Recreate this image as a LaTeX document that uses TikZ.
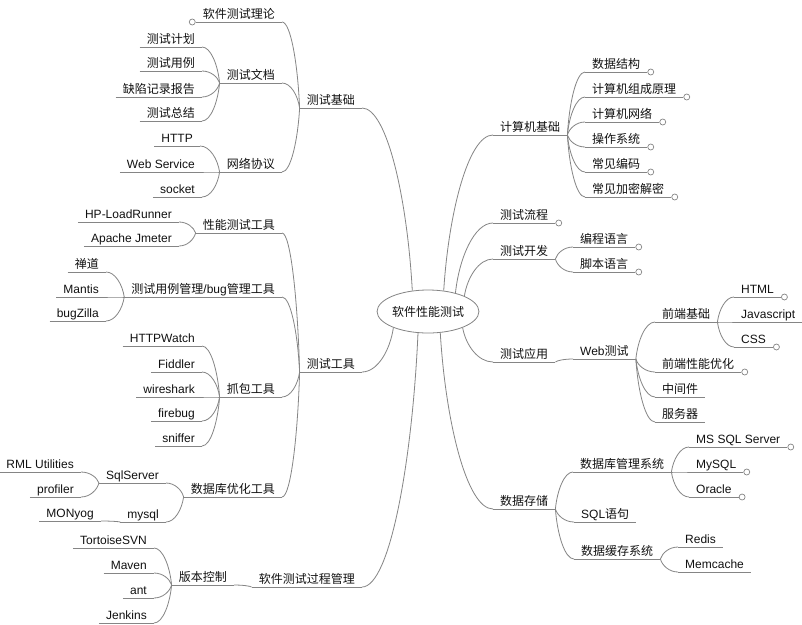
\documentclass[tikz,border=0pt]{standalone}
\usepackage{fontspec}
\setmainfont{Liberation Sans}
\newfontfamily\cjk{Noto Sans CJK SC}
\newcommand{\zhsize}{\cjk\fontsize{12pt}{14pt}\selectfont}
\newcommand{\ensize}{\rmfamily\fontsize{12pt}{14pt}\selectfont}
\usepackage{xcolor}
\definecolor{ink}{HTML}{111111}
\definecolor{wire}{HTML}{858585}
\usetikzlibrary{calc, shapes.geometric}
\tikzset{
  stem/.style={draw=wire, line width=0.8pt},
  topic/.style={inner xsep=7pt, inner ysep=1pt, text height=9pt, text depth=2.5pt,
    font=\zhsize, text=ink,
    append after command={(\tikzlastnode.south west) edge[stem] (\tikzlastnode.south east)}},
  lt/.style={topic, anchor=south east},
  rt/.style={topic, anchor=south west},
  en/.style={font=\ensize},
  knob/.style={circle, draw=wire, fill=white, line width=0.7pt, minimum size=6pt, inner sep=0pt},
  link/.style={stem, to path={let \p1=(\tikztostart), \p2=(\tikztotarget) in
    .. controls ({0.9*\x1+0.1*\x2},{0.5*\y1+0.5*\y2}) and ({0.5*\x1+0.5*\x2},{\y2}) .. (\tikztotarget)}},
}

\begin{document}
\begin{tikzpicture}[x=1pt, y=1pt]
  \path[use as bounding box, fill=white] (0,0) rectangle (802,-624);

  % The central topic.
  \node[ellipse, draw=wire, line width=0.8pt, minimum width=90pt, minimum height=43pt,
    inner sep=0pt, font=\zhsize, text=ink] (root) at (428,-311.5) {软件性能测试};

  % Left half, first branch.
  \node[lt] (csjc) at (362,-108) {测试基础};
  \node[lt] (llun) at (282,-22) {软件测试理论};
  \node[lt] (wdang) at (282,-83) {测试文档};
  \node[lt] (jhua) at (202,-47) {测试计划};
  \node[lt] (ylie) at (202,-71) {测试用例};
  \node[lt] (qxian) at (202,-97) {缺陷记录报告};
  \node[lt] (zjie) at (202,-121) {测试总结};
  \node[lt] (xyi) at (282,-172) {网络协议};
  \node[lt, en] (http) at (200,-146) {HTTP};
  \node[lt, en] (ws) at (202,-172) {Web Service};
  \node[lt, en] (sock) at (202,-197) {socket};

  % Left half, tools.
  \node[lt] (csgj) at (362,-372) {测试工具};
  \node[lt] (xngj) at (282,-233) {性能测试工具};
  \node[lt, en] (lr) at (179,-222) {HP-LoadRunner};
  \node[lt, en] (jmt) at (179,-246) {Apache Jmeter};
  \node[lt] (glgj) at (282,-297) {测试用例管理{\rmfamily /bug}管理工具};
  \node[lt] (chd) at (106,-272) {禅道};
  \node[lt, en] (mts) at (106,-297) {Mantis};
  \node[lt, en] (bgz) at (106,-321) {bugZilla};
  \node[lt] (zbgj) at (282,-397) {抓包工具};
  \node[lt, en] (hw) at (202,-346) {HTTPWatch};
  \node[lt, en] (fid) at (202,-372) {Fiddler};
  \node[lt, en] (wsh) at (202,-397) {wireshark};
  \node[lt, en] (fbg) at (202,-421) {firebug};
  \node[lt, en] (snf) at (202,-446) {sniffer};
  \node[lt] (sjkgj) at (282,-497) {数据库优化工具};
  \node[lt, en] (sqls) at (166,-483) {SqlServer};
  \node[lt, en] (rml) at (81,-472) {RML Utilities};
  \node[lt, en] (prof) at (81,-497) {profiler};
  \node[lt, en] (mysq) at (166,-522) {mysql};
  \node[lt, en] (mony) at (101,-521) {MONyog};

  % Left half, process.
  \node[lt] (gcgl) at (362,-587) {软件测试过程管理};
  \node[lt] (bbkz) at (234,-585) {版本控制};
  \node[lt, en] (svn) at (154,-548) {TortoiseSVN};
  \node[lt, en] (mvn) at (154,-573) {Maven};
  \node[lt, en] (ant) at (154,-598) {ant};
  \node[lt, en] (jks) at (154,-623) {Jenkins};

  % Right half.
  \node[rt] (jsjjc) at (493,-135) {计算机基础};
  \node[rt] (sjjg) at (585,-72) {数据结构};
  \node[rt] (zcyl) at (585,-97) {计算机组成原理};
  \node[rt] (jswl) at (585,-122) {计算机网络};
  \node[rt] (czxt) at (585,-147) {操作系统};
  \node[rt] (cjbm) at (585,-172) {常见编码};
  \node[rt] (jmjm) at (585,-197) {常见加密解密};
  \node[rt] (cslc) at (493,-223) {测试流程};
  \node[rt] (cskf) at (493,-259) {测试开发};
  \node[rt] (bcyy) at (573,-247) {编程语言};
  \node[rt] (jbyy) at (573,-272) {脚本语言};
  \node[rt] (csyy) at (493,-362) {测试应用};
  \node[rt, en] (webcs) at (573,-359) {Web{\cjk 测试}};
  \node[rt] (qdjc) at (655,-322) {前端基础};
  \node[rt, en] (html) at (734,-297) {HTML};
  \node[rt, en] (js) at (734,-322) {Javascript};
  \node[rt, en] (css) at (734,-347) {CSS};
  \node[rt] (qdyh) at (655,-372) {前端性能优化};
  \node[rt] (zjj) at (655,-397) {中间件};
  \node[rt] (fwq) at (655,-422) {服务器};
  \node[rt] (sjcc) at (493,-509) {数据存储};
  \node[rt] (sjkgl) at (573,-472) {数据库管理系统};
  \node[rt, en] (mssql) at (689,-447) {MS SQL Server};
  \node[rt, en] (mysql) at (689,-472) {MySQL};
  \node[rt, en] (orcl) at (689,-497) {Oracle};
  \node[rt, en] (sqlyj) at (574,-522) {SQL{\cjk 语句}};
  \node[rt] (hcxt) at (574,-559) {数据缓存系统};
  \node[rt, en] (rds) at (678,-547) {Redis};
  \node[rt, en] (memc) at (678,-572) {Memcache};

  % Branch links.
  \draw[link] (root.127) to (csjc.south east);
  \draw[link] (root.-155) to (csgj.south east);
  \draw[link] (root.-115) to (gcgl.south east);
  \foreach \c in {llun,wdang,xyi} \draw[link] (csjc.south west) to (\c.south east);
  \foreach \c in {jhua,ylie,qxian,zjie} \draw[link] (wdang.south west) to (\c.south east);
  \foreach \c in {http,ws,sock} \draw[link] (xyi.south west) to (\c.south east);
  \foreach \c in {xngj,glgj,zbgj,sjkgj} \draw[link] (csgj.south west) to (\c.south east);
  \foreach \c in {lr,jmt} \draw[link] (xngj.south west) to (\c.south east);
  \foreach \c in {chd,mts,bgz} \draw[link] (glgj.south west) to (\c.south east);
  \foreach \c in {hw,fid,wsh,fbg,snf} \draw[link] (zbgj.south west) to (\c.south east);
  \foreach \c in {sqls,mysq} \draw[link] (sjkgj.south west) to (\c.south east);
  \foreach \c in {rml,prof} \draw[link] (sqls.south west) to (\c.south east);
  \draw[link] (mysq.south west) to (mony.south east);
  \draw[link] (gcgl.south west) to (bbkz.south east);
  \foreach \c in {svn,mvn,ant,jks} \draw[link] (bbkz.south west) to (\c.south east);

  \draw[link] (root.53) to (jsjjc.south west);
  \draw[link] (root.34) to (cslc.south west);
  \draw[link] (root.23) to (cskf.south west);
  \draw[link] (root.-25) to (csyy.south west);
  \draw[link] (root.-60) to (sjcc.south west);
  \foreach \c in {sjjg,zcyl,jswl,czxt,cjbm,jmjm} \draw[link] (jsjjc.south east) to (\c.south west);
  \foreach \c in {bcyy,jbyy} \draw[link] (cskf.south east) to (\c.south west);
  \draw[link] (csyy.south east) to (webcs.south west);
  \foreach \c in {qdjc,qdyh,zjj,fwq} \draw[link] (webcs.south east) to (\c.south west);
  \foreach \c in {html,js,css} \draw[link] (qdjc.south east) to (\c.south west);
  \foreach \c in {sjkgl,sqlyj,hcxt} \draw[link] (sjcc.south east) to (\c.south west);
  \foreach \c in {mssql,mysql,orcl} \draw[link] (sjkgl.south east) to (\c.south west);
  \foreach \c in {rds,memc} \draw[link] (hcxt.south east) to (\c.south west);

  % Folded ends.
  \node[knob, anchor=east] at (llun.south west) {};
  \foreach \n in {sjjg,zcyl,jswl,czxt,cjbm,jmjm,cslc,bcyy,jbyy,html,js,css,qdyh,mssql,mysql,orcl}
    \node[knob, anchor=west] at (\n.south east) {};
\end{tikzpicture}
\end{document}
